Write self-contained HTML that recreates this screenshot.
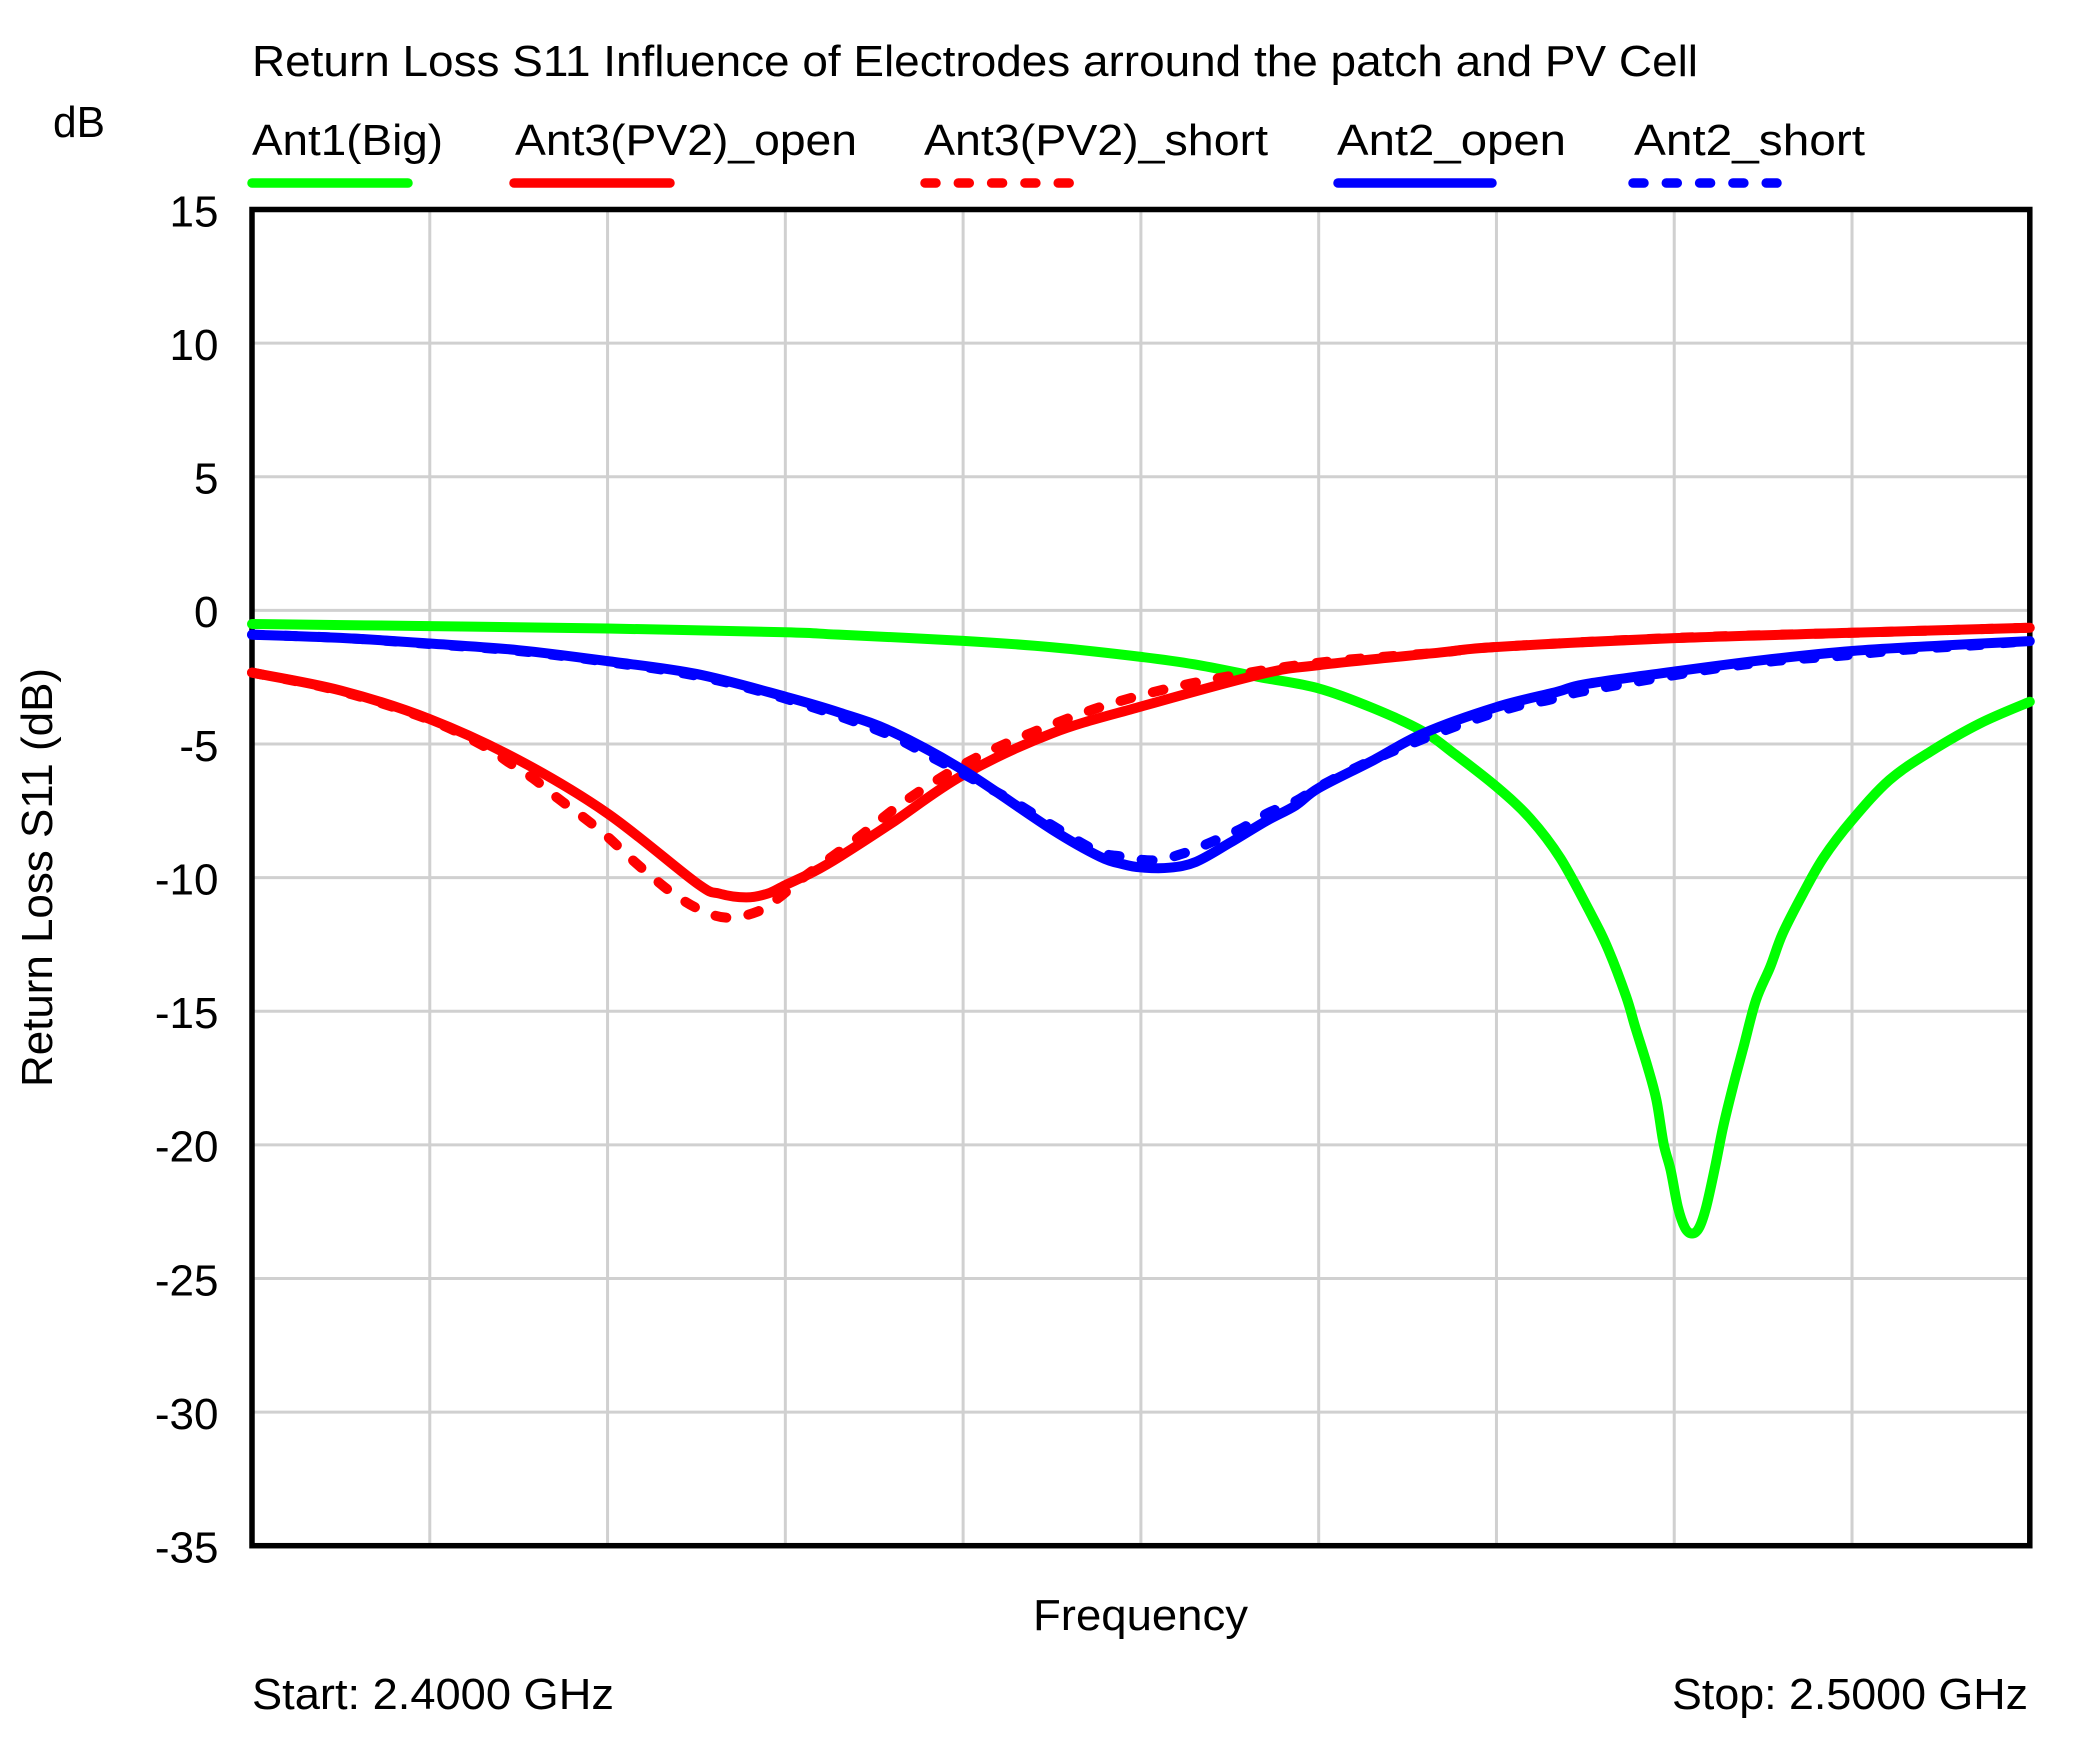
<!DOCTYPE html>
<html lang="en">
<head>
<meta charset="utf-8">
<title>Return Loss S11</title>
<style>
html,body{margin:0;padding:0;background:#fff;width:2076px;height:1748px;overflow:hidden}
svg{display:block}
text{font-family:"Liberation Sans",sans-serif;fill:#000;font-size:44px}
</style>
</head>
<body>
<svg id="chart" xmlns="http://www.w3.org/2000/svg" width="2076" height="1748" viewBox="0 0 2076 1748">
  <rect width="2076" height="1748" fill="#fff"/>
  <text x="252" y="76" textLength="1446" lengthAdjust="spacingAndGlyphs">Return Loss S11 Influence of Electrodes arround the patch and PV Cell</text>
  <text x="53" y="137" textLength="52" lengthAdjust="spacingAndGlyphs">dB</text>

  <g>
    <text x="252" y="155" textLength="191" lengthAdjust="spacingAndGlyphs">Ant1(Big)</text>
    <line x1="252" y1="183" x2="408" y2="183" stroke="#00ff00" stroke-width="9.5" stroke-linecap="round"/>
    <text x="515" y="155" textLength="342" lengthAdjust="spacingAndGlyphs">Ant3(PV2)_open</text>
    <line x1="514" y1="183" x2="670" y2="183" stroke="#ff0000" stroke-width="9.5" stroke-linecap="round"/>
    <text x="924" y="155" textLength="344" lengthAdjust="spacingAndGlyphs">Ant3(PV2)_short</text>
    <line x1="925" y1="183" x2="1072" y2="183" stroke="#ff0000" stroke-width="9.5" stroke-linecap="round" stroke-dasharray="11 22.3"/>
    <text x="1337" y="155" textLength="229" lengthAdjust="spacingAndGlyphs">Ant2_open</text>
    <line x1="1338" y1="183" x2="1492" y2="183" stroke="#0000ff" stroke-width="9.5" stroke-linecap="round"/>
    <text x="1634" y="155" textLength="231" lengthAdjust="spacingAndGlyphs">Ant2_short</text>
    <line x1="1633" y1="183" x2="1777" y2="183" stroke="#0000ff" stroke-width="9.5" stroke-linecap="round" stroke-dasharray="11 22.3"/>
  </g>

  <g id="grid"></g>
  <g id="yticks"></g>
  <rect x="252" y="209.5" width="1777.8" height="1336.2" fill="none" stroke="#000" stroke-width="5.5"/>
  <g id="series"></g>

  <text transform="translate(52,1087) rotate(-90)" textLength="419" lengthAdjust="spacingAndGlyphs">Return Loss S11 (dB)</text>
  <text x="1033" y="1630" textLength="215" lengthAdjust="spacingAndGlyphs">Frequency</text>
  <text x="252" y="1709" textLength="362" lengthAdjust="spacingAndGlyphs">Start: 2.4000 GHz</text>
  <text x="1672" y="1709" textLength="356" lengthAdjust="spacingAndGlyphs">Stop: 2.5000 GHz</text>
</svg>
<script>
// Frequency offsets are MHz above the 2.4 GHz start; values are S11 in dB.
const yTickLabels = [15, 10, 5, 0, -5, -10, -15, -20, -25, -30, -35];
const xGridMHz = [10, 20, 30, 40, 50, 60, 70, 80, 90];

const ant1BigFreq = [0, 10, 20, 30, 33, 40, 45, 50, 53, 56.7, 60, 63.1, 65.9, 67.6, 70, 71.9, 73.6, 75.4, 76.3, 77.3, 77.8, 78.5, 79, 79.4, 79.8, 80.2, 80.6, 81, 81.4, 81.8, 82.3, 82.75, 83.3, 83.9, 84.6, 85.4, 86.1, 87.25, 88.4, 90, 92.1, 94.4, 97.2, 100];
const ant1BigDb = [-0.51, -0.59, -0.68, -0.82, -0.91, -1.14, -1.38, -1.74, -2.02, -2.5, -2.92, -3.67, -4.54, -5.35, -6.6, -7.79, -9.28, -11.47, -12.71, -14.46, -15.58, -17.08, -18.33, -19.95, -20.95, -22.32, -23.1, -23.32, -23.1, -22.32, -20.82, -19.33, -17.83, -16.33, -14.58, -13.34, -12.09, -10.59, -9.25, -7.85, -6.35, -5.29, -4.23, -3.42];

const ant3OpenFreq = [0, 5, 10, 15, 20, 25, 26.3, 27.8, 29, 30, 31.6, 33.1, 36, 40, 45, 50, 56.8, 60, 66.8, 70, 80, 90, 100];
const ant3OpenDb = [-2.33, -3.0, -4.07, -5.6, -7.6, -10.2, -10.6, -10.74, -10.6, -10.28, -9.78, -9.2, -7.95, -6.16, -4.6, -3.6, -2.38, -2.05, -1.58, -1.37, -1.04, -0.84, -0.65];

const ant3ShortFreq = [0, 5, 10, 13.1, 14.4, 15.8, 17.2, 18.6, 20, 21.2, 22.5, 23.8, 25.2, 26.7, 28.4, 29.7, 31, 33.9, 36.5, 39.3, 41.8, 44.8, 47.9, 51.3, 54.6, 58.2, 61.9, 66.8, 70, 80, 90, 100];
const ant3ShortDb = [-2.33, -3.03, -4.1, -5.1, -5.67, -6.28, -7.03, -7.72, -8.47, -9.22, -9.97, -10.65, -11.2, -11.5, -11.28, -10.72, -10.0, -8.6, -7.25, -6.04, -5.17, -4.33, -3.58, -2.96, -2.51, -2.11, -1.83, -1.58, -1.37, -1.03, -0.84, -0.65];

const ant2OpenFreq = [0, 5, 10, 15, 20, 25, 30, 33.07, 36, 40, 45, 47.7, 49, 50, 51.6, 53.1, 55, 57, 58.7, 60, 63.1, 65.9, 70, 73.4, 75, 80, 85, 90, 95, 100];
const ant2OpenDb = [-0.91, -1.03, -1.24, -1.49, -1.9, -2.38, -3.23, -3.83, -4.54, -5.98, -8.2, -9.22, -9.5, -9.62, -9.63, -9.41, -8.7, -7.9, -7.3, -6.65, -5.6, -4.6, -3.62, -3.05, -2.76, -2.29, -1.86, -1.52, -1.32, -1.15];

const ant2ShortFreq = [0, 5, 10, 15, 20, 25, 30, 35.4, 38.2, 41.7, 43, 47.2, 49, 50.8, 52.5, 54, 55.7, 57.1, 58.7, 60.2, 63.2, 67.9, 71.1, 72.9, 74.5, 77.8, 82, 85.6, 89.2, 93.1, 96.6, 100];
const ant2ShortDb = [-0.91, -1.03, -1.26, -1.52, -1.93, -2.45, -3.3, -4.54, -5.48, -6.73, -7.22, -8.9, -9.22, -9.35, -9.07, -8.66, -8.15, -7.6, -7.14, -6.54, -5.55, -4.29, -3.6, -3.36, -3.08, -2.68, -2.21, -1.9, -1.71, -1.47, -1.32, -1.15];

const NS = 'http://www.w3.org/2000/svg';
const PLOT_LEFT = 252, PLOT_RIGHT = 2029.8, PLOT_TOP = 209.5, PLOT_BOTTOM = 1545.7;
const FREQ_MIN = 0, FREQ_MAX = 100, DB_MAX = 15, DB_MIN = -35;

function xScale(f) {
  return PLOT_LEFT + (f - FREQ_MIN) / (FREQ_MAX - FREQ_MIN) * (PLOT_RIGHT - PLOT_LEFT);
}
function yScale(v) {
  return PLOT_TOP + (DB_MAX - v) / (DB_MAX - DB_MIN) * (PLOT_BOTTOM - PLOT_TOP);
}
function smoothPath(freqs, values) {
  const pts = freqs.map(function (f, i) { return [xScale(f), yScale(values[i])]; });
  let d = 'M' + pts[0][0].toFixed(2) + ' ' + pts[0][1].toFixed(2);
  for (let i = 0; i < pts.length - 1; i++) {
    const p0 = pts[Math.max(i - 1, 0)], p1 = pts[i], p2 = pts[i + 1], p3 = pts[Math.min(i + 2, pts.length - 1)];
    const c1x = p1[0] + (p2[0] - p0[0]) / 6, c1y = p1[1] + (p2[1] - p0[1]) / 6;
    const c2x = p2[0] - (p3[0] - p1[0]) / 6, c2y = p2[1] - (p3[1] - p1[1]) / 6;
    d += 'C' + c1x.toFixed(2) + ' ' + c1y.toFixed(2) + ' ' + c2x.toFixed(2) + ' ' + c2y.toFixed(2) + ' ' + p2[0].toFixed(2) + ' ' + p2[1].toFixed(2);
  }
  return d;
}

const gridGroup = document.getElementById('grid');
const tickGroup = document.getElementById('yticks');
const seriesGroup = document.getElementById('series');

xGridMHz.forEach(function (f) {
  const ln = document.createElementNS(NS, 'line');
  
  
  ln.setAttribute('x1', xScale(f));
  ln.setAttribute('x2', xScale(f));
  ln.setAttribute('y1', PLOT_TOP);
  ln.setAttribute('y2', PLOT_BOTTOM);
  ln.setAttribute('stroke', '#d0d0d0');
  ln.setAttribute('stroke-width', '3');
  gridGroup.appendChild(ln);
});

yTickLabels.forEach(function (v) {
  if (v !== DB_MAX && v !== DB_MIN) {
    const ln = document.createElementNS(NS, 'line');
    
    
    ln.setAttribute('x1', PLOT_LEFT);
    ln.setAttribute('x2', PLOT_RIGHT);
    ln.setAttribute('y1', yScale(v));
    ln.setAttribute('y2', yScale(v));
    ln.setAttribute('stroke', '#d0d0d0');
    ln.setAttribute('stroke-width', '3');
    gridGroup.appendChild(ln);
  }
  const t = document.createElementNS(NS, 'text');
  
  
  t.setAttribute('x', 218.5);
  t.setAttribute('y', yScale(v) + 16.8);
  t.setAttribute('text-anchor', 'end');
  t.textContent = String(v);
  tickGroup.appendChild(t);
});

function drawSeries(name, freqs, values, color, dash) {
  const p = document.createElementNS(NS, 'path');
  
  
  p.setAttribute('d', smoothPath(freqs, values));
  p.setAttribute('fill', 'none');
  p.setAttribute('stroke', color);
  p.setAttribute('stroke-width', '10');
  p.setAttribute('stroke-linecap', 'round');
  p.setAttribute('stroke-linejoin', 'round');
  if (dash) p.setAttribute('stroke-dasharray', dash);
  seriesGroup.appendChild(p);
}

drawSeries('series-ant1-big', ant1BigFreq, ant1BigDb, '#00ff00', null);
drawSeries('series-ant3-short', ant3ShortFreq, ant3ShortDb, '#ff0000', '11 22.3');
drawSeries('series-ant3-open', ant3OpenFreq, ant3OpenDb, '#ff0000', null);
drawSeries('series-ant2-short', ant2ShortFreq, ant2ShortDb, '#0000ff', '11 22.3');
drawSeries('series-ant2-open', ant2OpenFreq, ant2OpenDb, '#0000ff', null);
</script>
</body>
</html>
